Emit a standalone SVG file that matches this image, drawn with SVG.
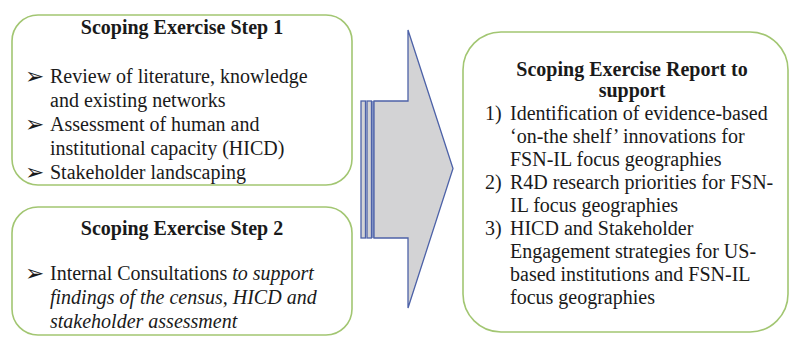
<svg xmlns="http://www.w3.org/2000/svg" width="791" height="337" viewBox="0 0 791 337">
<style>
.box{fill:#ffffff;stroke:#a2c672;stroke-width:1.6}
.t{font-family:"Liberation Serif","Times New Roman",serif;font-size:20px;fill:#1a1a1a}
.b{font-weight:bold}
.bl{font-family:"DejaVu Sans",sans-serif;font-size:23px;font-weight:bold;fill:#1a1a1a}
.arr{fill:#d3d3d5;stroke:#4d62a8;stroke-width:1.3}
</style>
<rect width="791" height="337" fill="#ffffff"/>
<g id="connectors">
<rect class="arr" x="361" y="101" width="4.5" height="137"/>
<rect class="arr" x="367" y="101" width="4.5" height="137"/>
<rect x="372" y="101" width="3" height="137" fill="#7f90c4"/>
<polygon class="arr" points="374,101 408,101 408,30 453,168.5 408,308 408,238 374,238"/>
</g>
<g id="step1">
<rect class="box" x="12" y="15" width="340" height="170" rx="26" ry="26"/>
<text class="t b" x="182" y="34" text-anchor="middle">Scoping Exercise Step 1</text>
<text class="bl" x="25" y="84">➢</text>
<text class="t" x="50" y="83">Review of literature, knowledge</text>
<text class="t" x="50" y="107">and existing networks</text>
<text class="bl" x="25" y="132">➢</text>
<text class="t" x="50" y="131">Assessment of human and</text>
<text class="t" x="50" y="155">institutional capacity (HICD)</text>
<text class="bl" x="25" y="180">➢</text>
<text class="t" x="50" y="179">Stakeholder landscaping</text>
</g>
<g id="step2">
<rect class="box" x="12" y="207" width="340" height="128" rx="26" ry="26"/>
<text class="t b" x="182" y="235" text-anchor="middle">Scoping Exercise Step 2</text>
<text class="bl" x="25" y="281">➢</text>
<text class="t" x="50" y="280">Internal Consultations <tspan font-style="italic">to support</tspan></text>
<text class="t" x="50" y="304" font-style="italic">findings of the census, HICD and</text>
<text class="t" x="50" y="328" font-style="italic">stakeholder assessment</text>
</g>
<g id="report">
<rect class="box" x="463" y="32" width="325" height="300" rx="38" ry="38"/>
<text class="t b" x="632" y="76" text-anchor="middle">Scoping Exercise Report to</text>
<text class="t b" x="632" y="97" text-anchor="middle">support</text>
<text class="t" x="485" y="120">1)</text>
<text class="t" x="510" y="120">Identification of evidence-based</text>
<text class="t" x="510" y="143">‘on-the shelf’ innovations for</text>
<text class="t" x="510" y="166">FSN-IL focus geographies</text>
<text class="t" x="485" y="189">2)</text>
<text class="t" x="510" y="189">R4D research priorities for FSN-</text>
<text class="t" x="510" y="212">IL focus geographies</text>
<text class="t" x="485" y="235">3)</text>
<text class="t" x="510" y="235">HICD and Stakeholder</text>
<text class="t" x="510" y="258">Engagement strategies for US-</text>
<text class="t" x="510" y="281">based institutions and FSN-IL</text>
<text class="t" x="510" y="304">focus geographies</text>
</g>
</svg>
